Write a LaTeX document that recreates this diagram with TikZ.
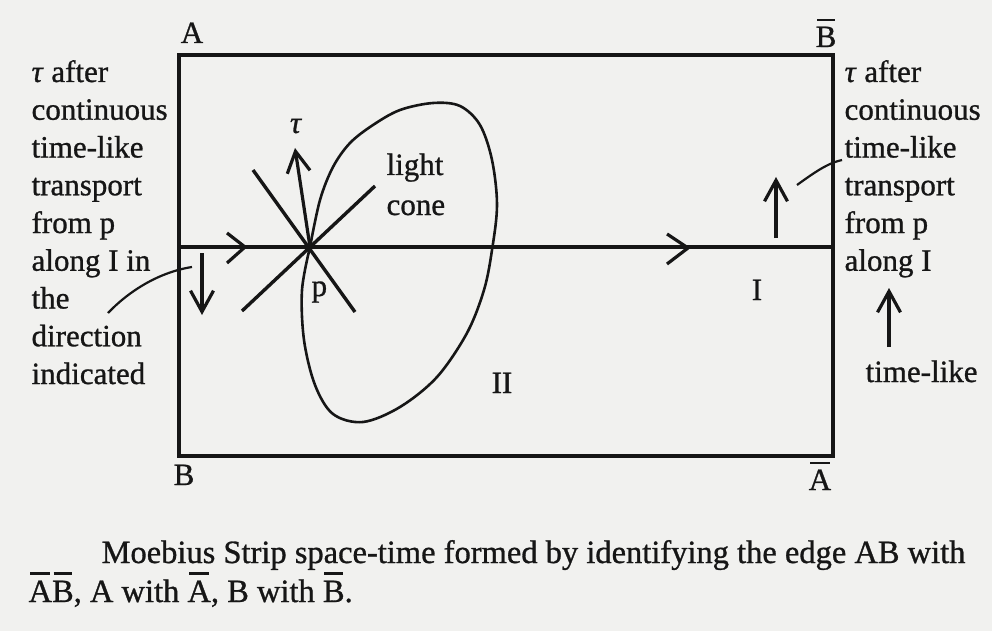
\documentclass[tikz,border=0pt]{standalone}
\usepackage{fontspec}
\setmainfont{Liberation Serif}[FakeBold=0.9]
\usetikzlibrary{arrows.meta}
\definecolor{paper}{RGB}{241,241,239}
\definecolor{ink}{RGB}{22,22,22}
\newcommand\ovl[1]{\leavevmode\setbox0\hbox{#1}\dimen0=\wd0 \rlap{\hbox to \dimen0{\hss\raisebox{0.84em}{\rule{0.86\dimen0}{0.07em}}\hss}}\box0}
\begin{document}
\begin{tikzpicture}[x=1pt,y=-1pt, line width=3.2pt, color=ink,
  txt/.style={font=\fontsize{31}{37}\selectfont, inner sep=0pt, anchor=base west, text=ink},
  lab/.style={font=\fontsize{31}{37}\selectfont, inner sep=0pt, anchor=base, text=ink},
  captxt/.style={font=\fontsize{32.5}{39}\selectfont, inner sep=0pt, anchor=base west, text=ink},
  tipped/.style={-{Straight Barb[length=21pt,width=23pt]}},
  thin/.style={line width=2.2pt},
  chev/.style={line join=round},
  ]
\fill[paper] (0,0) rectangle (992,631);
\useasboundingbox (0,0) rectangle (992,631);
% frame
\coordinate (cA) at (179,55);
\coordinate (cAb) at (833,456);
\coordinate (Il) at (179,247);
\coordinate (Ir) at (833,247);
\coordinate (p) at (310,247);
\draw (cA) rectangle (cAb);
\draw (Il) -- (Ir);
% chevrons on I
\draw[chev] (227,233) -- (245,247) -- (227,263);
\draw[chev] (667,234) -- (688,248) -- (667,264);
% light cone lines through p
\draw[line width=3.4pt] (253,170) -- (355,312);
\draw[line width=3.4pt] (375,186) -- (242,311);
% tau arrow
\coordinate (tauend) at (295,148);
\draw[tipped] (p) -- (tauend);
% loop
\draw[line width=2.6pt] plot[smooth, tension=0.55] coordinates {(310,247) (320,200) (333,167) (350,143) (373,125) (400,110) (433,103) (460,106) (480,125) (492,160) (497,205) (492,250) (484,290) (467,333) (437,377) (400,407) (363,422) (333,414) (315,385) (304,340) (302,290) (310,247)};
% transported vectors
\coordinate (ld0) at (202,253); \coordinate (ld1) at (202,315);
\draw[tipped] (ld0) -- (ld1);
\coordinate (ru0) at (776,238); \coordinate (ru1) at (776,177);
\draw[tipped] (ru0) -- (ru1);
\coordinate (tl0) at (889,347); \coordinate (tl1) at (889,288);
\draw[tipped] (tl0) -- (tl1);
% labels
\node[lab] (lA) at (192,43) {A};
\node[lab] (lBb) at (826,47) {\ovl{B}};
\node[lab] (lB) at (184,485) {B};
\node[lab] (lAb) at (820,490) {\ovl{A}};
\node[lab] (ltau) at (296,133) {\textit{τ}};
\node[txt] (light) at (385,175) {light};
\node[txt] (cone) at (385,215) {cone};
\node[txt] (lp) at (310,296) {p};
\node[lab] (lI) at (757,300) {I};
\node[lab] (lII) at (502,393) {II};
% side texts
\foreach [count=\i] \t in {{\textit{τ} after},continuous,time-like,transport,from p,along I in,the,direction,indicated}
  \node[txt] (L\i) at (30,{82+37.75*(\i-1)}) {\t};
\foreach [count=\i] \t in {{\textit{τ} after},continuous,time-like,transport,from p,along I}
  \node[txt] (R\i) at (843,{82+37.75*(\i-1)}) {\t};
\node[txt] (tlike) at (864,382) {time-like};
% pointers
\coordinate (lpt) at (192,267);
\coordinate (lpe) at (108,313);
\draw[thin] (lpt) .. controls (160,272) and (130,290) .. (lpe);
\coordinate (rpt) at (797,185);
\coordinate (rpe) at (842,160);
\draw[thin] (rpt) .. controls (815,172) and (828,163) .. (rpe);
% caption
\node[captxt] (cap1) at (100,563) {Moebius Strip space-time formed by identifying the edge AB with};
\node[captxt] (cap2) at (27,602) {\ovl{A}\ovl{B}, A with \ovl{A}, B with \ovl{B}.};
\end{tikzpicture}
\end{document}
